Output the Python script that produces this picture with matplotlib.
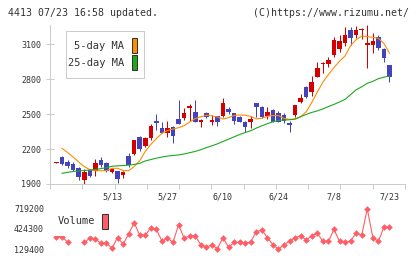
import matplotlib
matplotlib.use("Agg")
import matplotlib.pyplot as plt
from matplotlib.patches import Rectangle
import numpy as np

# ---------------- data ----------------
opens = [2082, 2132, 2089, 2072, 2035, 1934, 2023, 2012, 2106, 2078,
         2003, 2012, 1975, 2138, 2158, 2306, 2229, 2293, 2441, 2384,
         2341, 2392, 2458, 2470, 2556, 2516, 2435, 2513, 2435, 2484,
         2484, 2544, 2507, 2473, 2435, 2435, 2593, 2559, 2487, 2536,
         2507, 2493, 2420, 2493, 2608, 2736, 2693, 2822, 2931, 2931,
         3008, 3060, 3111, 3223, 3180, 3220, 3094, 3094, 3160, 3057,
         2922]
highs = [2090, 2140, 2109, 2086, 2043, 2029, 2029, 2115, 2132, 2092,
         2040, 2012, 2014, 2169, 2280, 2315, 2301, 2415, 2501, 2432,
         2438, 2401, 2621, 2550, 2587, 2621, 2456, 2518, 2493, 2487,
         2636, 2559, 2513, 2484, 2444, 2484, 2593, 2570, 2564, 2547,
         2530, 2507, 2441, 2579, 2673, 2742, 2828, 2945, 2951, 2988,
         3160, 3183, 3251, 3251, 3257, 3240, 3266, 3200, 3180, 3066,
         2922]
lows = [2082, 2063, 2040, 2014, 1934, 1900, 1960, 1969, 2046, 2006,
        1991, 1911, 1954, 2049, 2149, 2186, 2221, 2278, 2364, 2335,
        2306, 2255, 2418, 2450, 2444, 2435, 2392, 2467, 2407, 2401,
        2478, 2501, 2415, 2430, 2349, 2378, 2478, 2464, 2458, 2430,
        2430, 2427, 2349, 2478, 2593, 2642, 2656, 2817, 2856, 2902,
        2994, 3031, 3086, 3094, 3151, 3150, 2894, 3028, 3051, 2951,
        2779]
closes = [2090, 2074, 2055, 2020, 1963, 2006, 1969, 2078, 2063, 2015,
          2029, 1943, 2005, 2066, 2278, 2200, 2293, 2398, 2427, 2341,
          2384, 2315, 2418, 2507, 2570, 2435, 2450, 2478, 2450, 2430,
          2593, 2521, 2444, 2435, 2392, 2458, 2564, 2478, 2518, 2435,
          2435, 2444, 2404, 2579, 2642, 2651, 2776, 2894, 2943, 2965,
          3137, 3128, 3183, 3157, 3223, 3226, 3114, 3131, 3066, 2980,
          2822]
ma5 = [np.nan, 2207, 2170, 2132, 2089, 2049, 2024, 2014, 2014, 2014,
       2035, 2035, 2016, 2014, 2050, 2100, 2180, 2240, 2290, 2335,
       2360, 2372, 2384, 2401, 2432, 2462, 2478, 2490, 2486, 2476,
       2458, 2470, 2489, 2493, 2491, 2481, 2460, 2465, 2482, 2488,
       2488, 2464, 2455, 2458, 2478, 2521, 2600, 2690, 2775, 2840,
       2900, 2955, 3000, 3090, 3140, 3171, 3166, 3160, 3151, 3108,
       3023]
ma25 = [np.nan, 1992, 2000, 2008, 2012, 2016, 2020, 2025, 2032, 2040,
        2052, 2056, 2058, 2062, 2068, 2078, 2098, 2110, 2122, 2132,
        2140, 2145, 2150, 2158, 2169, 2180, 2195, 2212, 2228, 2245,
        2265, 2285, 2305, 2325, 2342, 2358, 2380, 2400, 2418, 2435,
        2446, 2450, 2452, 2458, 2478, 2498, 2515, 2528, 2545, 2565,
        2584, 2605, 2627, 2668, 2710, 2735, 2765, 2782, 2805, 2818,
        2828]
volume = [312000, 312000, 225800, np.nan, np.nan, 225800, 287600, 273200, 215700, 215700,
          139500, 297700, 201300, 349500, 513500, 330800, 330800, 441600, 417100, 244500,
          287600, 225800, 484700, 287600, 320700, 320700, 191300, 153900, 191300, 132000,
          297700, 153900, 225800, 225800, 211400, 234400, 384000, 407000, 297700, 191300,
          129400, 191300, 244500, 297700, 320700, 263200, 320700, 363900, 240200, 240200,
          417100, 240200, 225800, 248800, 363900, 330800, 719200, 297700, 240200, 450200,
          450200]
date_pos = [10, 20, 30, 40, 50, 60]
date_labels = ["5/13", "5/27", "6/10", "6/24", "7/8", "7/23"]
price_ticks = [1900, 2200, 2500, 2800, 3100]
vol_ticks = [129400, 424300, 719200]

title_left = "4413 07/23 16:58 updated."
title_right = "(C)https://www.rizumu.net/"

# ---------------- style ----------------
W, H = 420, 259
MONO = "DejaVu Sans Mono"
RED = "#d40000"
BLUE = "#4343bd"
ORANGE = "#ff8c00"
GREEN = "#1caa1c"
VOLC = "#ff5e66"
GRID = "#cccccc"
TXT = "#333333"
PX = 0.72  # one pixel in points

fig = plt.figure(figsize=(W / 100, H / 100), dpi=100)


def px_box(x0, y0, x1, y1):
    return [x0 / W, 1 - y1 / H, (x1 - x0) / W, (y1 - y0) / H]


ax = fig.add_axes(px_box(50, 25, 405, 184))
axv = fig.add_axes(px_box(50, 204, 405, 252))

n = len(opens)
idx = np.arange(n)
o = np.array(opens, float)
c = np.array(closes, float)
hi = np.array(highs, float)
lo = np.array(lows, float)
cols = [RED if cc >= oo else BLUE for oo, cc in zip(o, c)]

ax.vlines(idx, lo, hi, colors=cols, linewidth=PX, zorder=2)
body_bottom = np.minimum(o, c)
body_h = np.maximum(np.abs(c - o), 10)
ax.bar(idx, body_h, bottom=body_bottom, width=0.82, color=cols,
       linewidth=0, zorder=3)
ax.plot(idx, ma5, color=ORANGE, lw=0.8, zorder=4)
ax.plot(idx, ma25, color=GREEN, lw=0.8, zorder=4)

xlim = (-1.17, 62.8)
ax.set_xlim(*xlim)
ax.set_ylim(1900, 3266)
for s in ["top", "right"]:
    ax.spines[s].set_visible(False)
for s in ["left", "bottom"]:
    ax.spines[s].set_color(GRID)
    ax.spines[s].set_linewidth(PX)

ax.set_yticks(price_ticks)
ax.set_yticklabels([str(t) for t in price_ticks], fontfamily=MONO)
ax.tick_params(axis="y", direction="inout", length=8 * PX, width=PX,
               color=GRID, labelsize=6, labelcolor=TXT, pad=4.5 * PX)

ax.set_xticks(date_pos)
ax.set_xticklabels(date_labels, fontfamily=MONO)
ax.tick_params(axis="x", which="major", length=0, labelsize=6,
               labelcolor=TXT, pad=9 * PX)
ax.set_xticks(np.linspace(xlim[0], xlim[1], 12), minor=True)
ax.tick_params(axis="x", which="minor", direction="out", length=5 * PX,
               width=PX, color=GRID)

# volume panel
axv.plot(idx, volume, color=VOLC, lw=0.8, marker="D", ms=3.4,
         markeredgewidth=0, clip_on=False)
axv.set_xlim(*xlim)
axv.set_ylim(85500, 788000)
for s in axv.spines.values():
    s.set_visible(False)
axv.set_xticks([])
axv.set_yticks(vol_ticks)
axv.set_yticklabels([str(t) for t in vol_ticks], fontfamily=MONO)
axv.tick_params(axis="y", length=0, labelsize=6, labelcolor=TXT, pad=6 * PX)

# overlay in pixel coordinates for titles / legends
ov = fig.add_axes([0, 0, 1, 1], zorder=10)
ov.set_xlim(0, W)
ov.set_ylim(H, 0)
ov.axis("off")
ov.patch.set_alpha(0)

ov.text(8, 12.5, title_left, ha="left", va="center", fontsize=7.1,
        family=MONO, color=TXT)
ov.text(409, 12.5, title_right, ha="right", va="center", fontsize=7.1,
        family=MONO, color=TXT)

ov.add_patch(Rectangle((65.5, 30.5), 78, 47, facecolor="white",
                       edgecolor=GRID, linewidth=PX))
ov.text(124, 46, "5-day MA", ha="right", va="center", fontsize=7.5,
        family=MONO, color=TXT)
ov.add_patch(Rectangle((131.5, 37.5), 5, 15, facecolor=ORANGE,
                       edgecolor="#333333", linewidth=PX))
ov.text(124, 63, "25-day MA", ha="right", va="center", fontsize=7.5,
        family=MONO, color=TXT)
ov.add_patch(Rectangle((131.5, 54.5), 5, 15, facecolor=GREEN,
                       edgecolor="#333333", linewidth=PX))

ov.add_patch(Rectangle((54, 208), 58, 28.3, facecolor="white",
                       edgecolor="none"))
ov.text(58, 221.5, "Volume", ha="left", va="center", fontsize=7.5,
        family=MONO, color=TXT)
ov.add_patch(Rectangle((101.5, 213.5), 6, 15, facecolor=VOLC,
                       edgecolor="#333333", linewidth=PX))

fig.savefig("out.png", dpi=100, facecolor="white")
